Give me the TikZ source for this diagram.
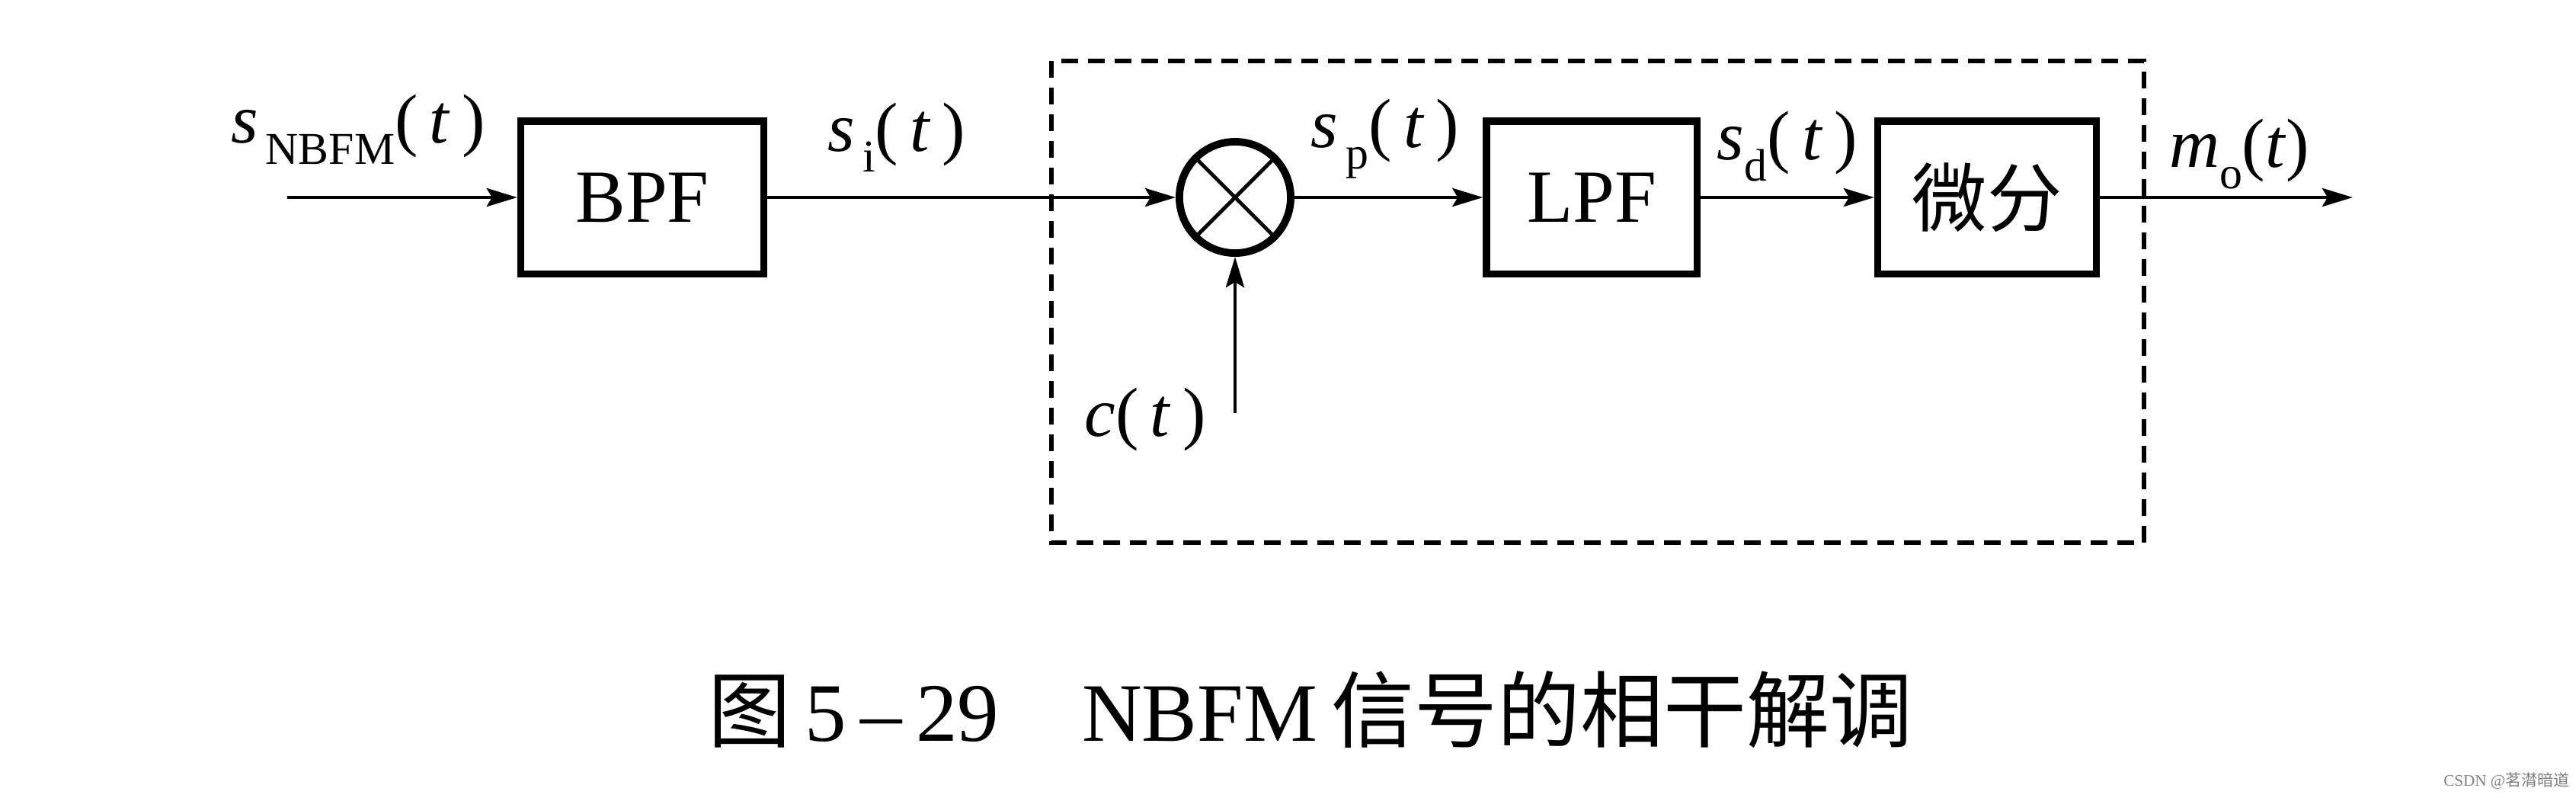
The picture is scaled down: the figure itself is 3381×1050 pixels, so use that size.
\documentclass[tikz,border=0pt]{standalone}
\usepackage{fontspec}
\setmainfont{Liberation Serif}
\newfontfamily\cjk{Noto Sans CJK SC}
\usetikzlibrary{arrows.meta}
\newcommand{\siglab}[2]{\textit{#1}\raisebox{-0.3em}{\fontsize{17}{18}\selectfont #2}(\,\textit{t}\,)}
\begin{document}
\begin{tikzpicture}[x=0.01cm,y=-0.01cm,
  blk/.style={draw,line width=2.6pt,minimum width=#1,minimum height=2cm,inner sep=0pt,font=\fontsize{28}{30}\selectfont},
  sig/.style={line width=1.4pt,-{Stealth[length=0.4cm,width=0.24cm,inset=0.07cm]}},
  lbl/.style={font=\fontsize{26}{28}\selectfont,inner sep=0pt}]
\useasboundingbox (0,0) rectangle (3381,1050);
\fill[white] (0,0) rectangle (3381,1050);
% blocks
\coordinate (in) at (377,259);
\node[blk=3.19cm] (bpf) at (843,259) {BPF};
\node[draw,circle,line width=2.8pt,minimum size=1.46cm,inner sep=0pt] (mix) at (1621,259) {};
\draw[line width=1.4pt] (mix.45)--(mix.225) (mix.135)--(mix.315);
\node[blk=2.76cm] (lpf) at (2089,259) {LPF};
\node[blk=2.87cm,font=\cjk\fontsize{28}{30}\selectfont] (diff) at (2608,259) {微分};
\coordinate (out) at (3088,259);
\coordinate (cin) at (1621,542);
% connectors
\draw[sig] (in) -- (bpf);
\draw[sig] (bpf) -- (mix);
\draw[sig] (mix) -- (lpf);
\draw[sig] (lpf) -- (diff);
\draw[sig] (diff) -- (out);
\draw[sig] (cin) -- (mix);
% labels
\node[lbl] (lnb) at (470,170) {\siglab{s}{\,NBFM}};
\node[lbl] (lsi) at (1177,180) {\siglab{s}{\,i}};
\node[lbl] (lsp) at (1818,182) {\siglab{s}{\,p}};
\node[lbl] (lsd) at (2346,192) {\siglab{s}{d}};
\node[lbl] (lmo) at (2939,202) {\textit{m}\raisebox{-0.3em}{\fontsize{17}{18}\selectfont o}(\textit{t})};
\node[lbl] (lc) at (1503,550) {\textit{c}(\,\textit{t}\,)};
% dashed group
\draw[line width=1.6pt,dash pattern=on 0.22cm off 0.13cm] (1380,80) rectangle (2814,712);
% caption
\node[font=\fontsize{31}{36}\selectfont,inner sep=0pt] (cap) at (1720,931) {{\cjk 图}\,5\,–\,29\quad NBFM\,{\cjk 信号的相干解调}};
\node[font=\fontsize{6}{7}\selectfont,text=gray,inner sep=0pt] (wm) at (3290,1025) {CSDN @{\cjk 茗潸暗道}};
\end{tikzpicture}
\end{document}
